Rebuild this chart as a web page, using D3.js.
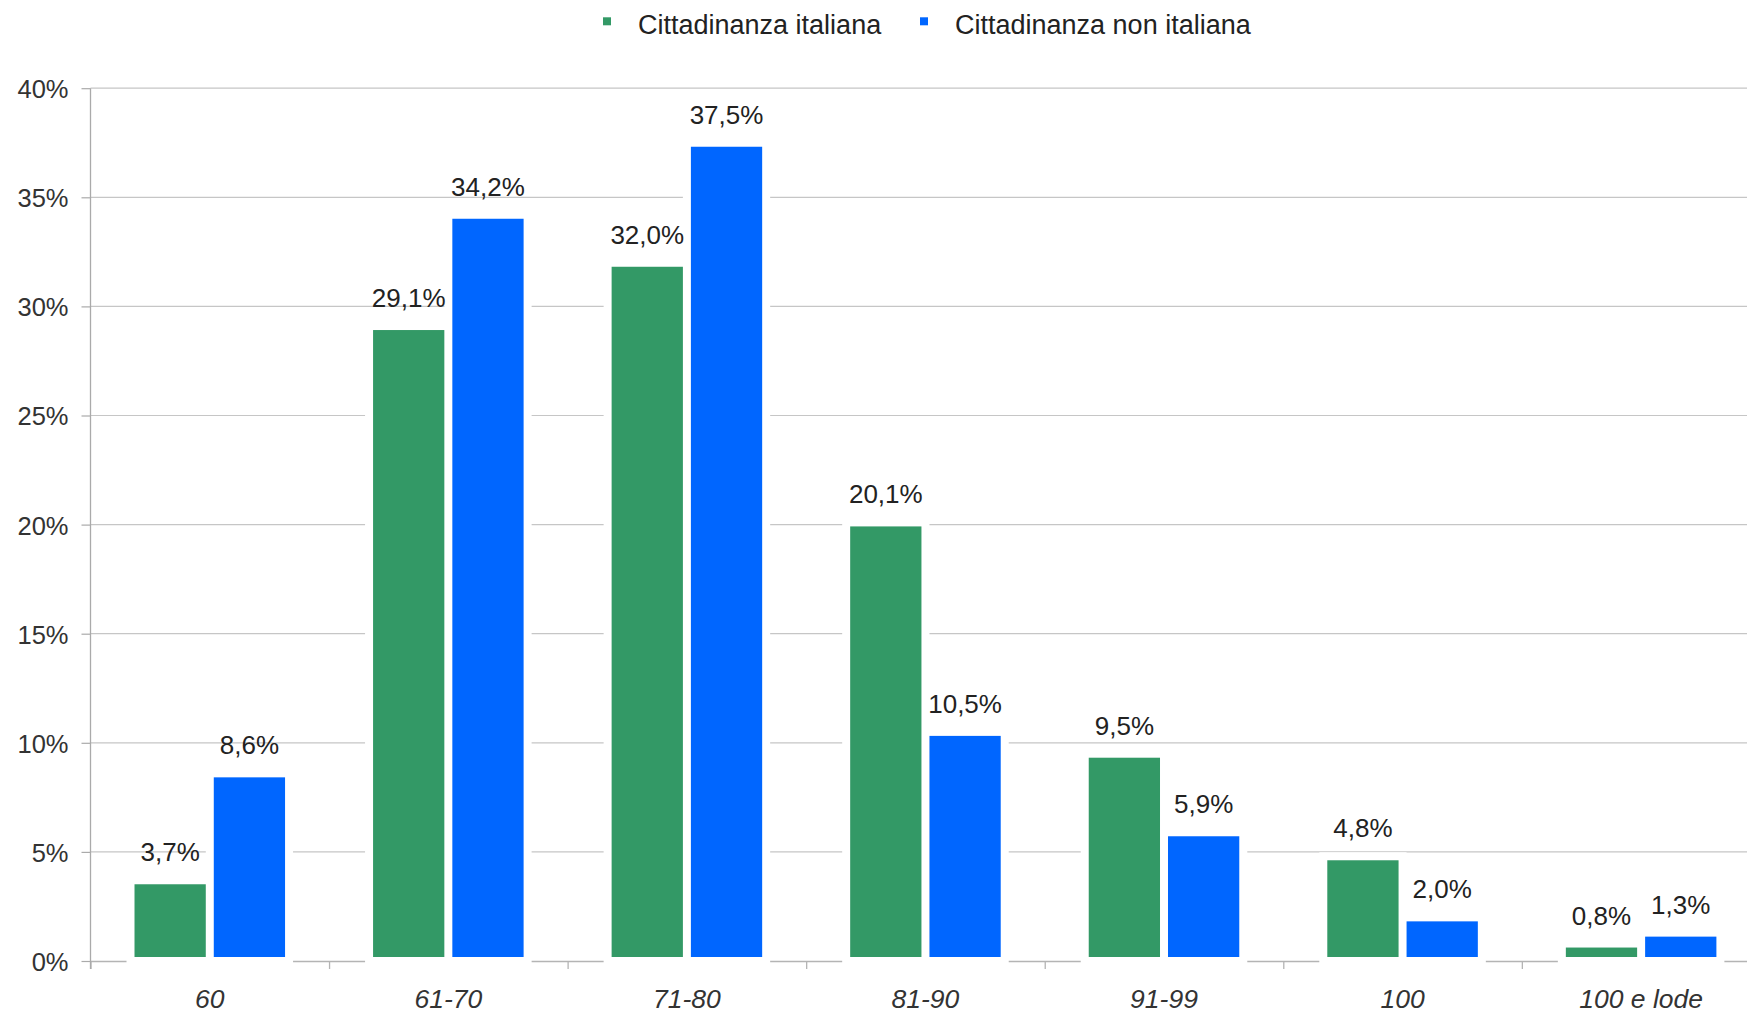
<!DOCTYPE html>
<html>
<head>
<meta charset="utf-8">
<script src="https://cdn.jsdelivr.net/npm/d3@7"></script>
<style>
  body { margin: 0; background: #fff; }
  text { font-family: "Liberation Sans", Arial, Helvetica, sans-serif; }
</style>
</head>
<body>
<div id="chart"></div>
<script>
// data
var categories = ["60", "61-70", "71-80", "81-90", "91-99", "100", "100 e lode"];
var seriesNames = ["Cittadinanza italiana", "Cittadinanza non italiana"];
var seriesColors = ["#339966", "#0066ff"];
var italiana = [3.7, 29.1, 32.0, 20.1, 9.5, 4.8, 0.8];
var nonItaliana = [8.6, 34.2, 37.5, 10.5, 5.9, 2.0, 1.3];
var yTicks = [0, 5, 10, 15, 20, 25, 30, 35, 40];

var svgWidth = 1747;
var svgHeight = 1014;

var plot = { left: 90.5, right: 1760.4, top: 88.2, bottom: 961 };
var inset = 4;     // bars drawn slightly inside their slot
var halo = 4;      // white border around the slot that hides gridlines

var svg = d3.select("#chart")
  .append("svg")
  .attr("width", svgWidth)
  .attr("height", svgHeight);

// scales
var x0 = d3.scaleBand()
  .domain(categories)
  .range([plot.left, plot.right]);

var groupPad = x0.bandwidth() * 0.1677;
var x1 = d3.scaleBand()
  .domain(seriesNames)
  .range([groupPad, x0.bandwidth() - groupPad]);

var y = d3.scaleLinear()
  .domain([0, 40])
  .range([plot.bottom, plot.top]);

var fmt = function(v) { return v.toFixed(1).replace(".", ",") + "%"; };

// build rows from the arrays
var rows = [];
categories.forEach(function(c, i) {
  rows.push({ cat: c, s: seriesNames[0], v: italiana[i], color: seriesColors[0] });
  rows.push({ cat: c, s: seriesNames[1], v: nonItaliana[i], color: seriesColors[1] });
});

// gridlines
svg.append("g")
  .selectAll("line")
  .data(yTicks.filter(function(t) { return t > 0; }))
  .enter()
  .append("line")
  .attr("x1", plot.left)
  .attr("x2", plot.right)
  .attr("y1", function(d) { return y(d); })
  .attr("y2", function(d) { return y(d); })
  .attr("stroke", "#c6c6c6")
  .attr("stroke-width", 1.2);

// x axis baseline + ticks at the band edges
var bottomAxis = d3.axisBottom(d3.scaleLinear().domain([0, 7]).range([plot.left, plot.right]))
  .tickValues(d3.range(0, 7))
  .tickSize(8)
  .tickSizeOuter(0)
  .tickFormat("");

svg.append("g")
  .attr("transform", "translate(0," + plot.bottom + ")")
  .call(bottomAxis)
  .call(function(g) {
    g.selectAll("path, line").attr("stroke", "#b4b4b4").attr("stroke-width", 1.3);
  });

// white halos that cut the gridlines
svg.append("g")
  .selectAll("rect")
  .data(rows)
  .enter()
  .append("rect")
  .attr("x", function(d) { return x0(d.cat) + x1(d.s) - halo; })
  .attr("y", function(d) { return y(d.v) - halo; })
  .attr("width", x1.bandwidth() + 2 * halo)
  .attr("height", function(d) { return y(0) - y(d.v) + 2 * halo; })
  .attr("fill", "#fff");

// bars
svg.append("g")
  .selectAll("rect")
  .data(rows)
  .enter()
  .append("rect")
  .attr("x", function(d) { return x0(d.cat) + x1(d.s) + inset; })
  .attr("y", function(d) { return y(d.v) + inset; })
  .attr("width", x1.bandwidth() - 2 * inset)
  .attr("height", function(d) { return Math.max(0, y(0) - y(d.v) - 2 * inset); })
  .attr("fill", function(d) { return d.color; });

// value labels
svg.append("g")
  .selectAll("text")
  .data(rows)
  .enter()
  .append("text")
  .attr("x", function(d) { return x0(d.cat) + x1(d.s) + x1.bandwidth() / 2; })
  .attr("y", function(d) { return y(d.v) - 19; })
  .attr("text-anchor", "middle")
  .attr("font-size", "26px")
  .attr("fill", "#222")
  .text(function(d) { return fmt(d.v); });

// y axis
var leftAxis = d3.axisLeft(y)
  .tickValues(yTicks)
  .tickSize(9)
  .tickPadding(13)
  .tickFormat(function(d) { return d + "%"; });

svg.append("g")
  .attr("transform", "translate(" + plot.left + ",0)")
  .call(leftAxis)
  .call(function(g) {
    g.select(".domain").attr("stroke", "#aaa").attr("stroke-width", 1.3)
      .attr("d", "M0," + plot.top + "V" + (plot.bottom + 8));
    g.selectAll(".tick line").attr("stroke", "#aaa").attr("stroke-width", 1.2);
    g.selectAll(".tick text")
      .attr("font-size", "25.5px")
      .attr("fill", "#333")
      .attr("font-family", "'Liberation Sans', Arial, Helvetica, sans-serif")
      .attr("dy", "0.37em");
  });

// category labels
svg.append("g")
  .selectAll("text")
  .data(categories)
  .enter()
  .append("text")
  .attr("x", function(d) { return x0(d) + x0.bandwidth() / 2; })
  .attr("y", 1008)
  .attr("text-anchor", "middle")
  .attr("font-size", "26.5px")
  .attr("font-style", "italic")
  .attr("fill", "#333")
  .text(function(d) { return d; });

// legend
var legendX = [603, 920];
var legend = svg.append("g")
  .selectAll("g")
  .data(seriesNames)
  .enter()
  .append("g")
  .attr("transform", function(d, i) { return "translate(" + legendX[i] + ",0)"; });

legend.append("rect")
  .attr("x", 0)
  .attr("y", 17.3)
  .attr("width", 8)
  .attr("height", 8)
  .attr("fill", function(d, i) { return seriesColors[i]; });

legend.append("text")
  .attr("x", 35)
  .attr("y", 34)
  .attr("font-size", "27px")
  .attr("fill", "#222")
  .text(function(d) { return d; });
</script>
</body>
</html>
